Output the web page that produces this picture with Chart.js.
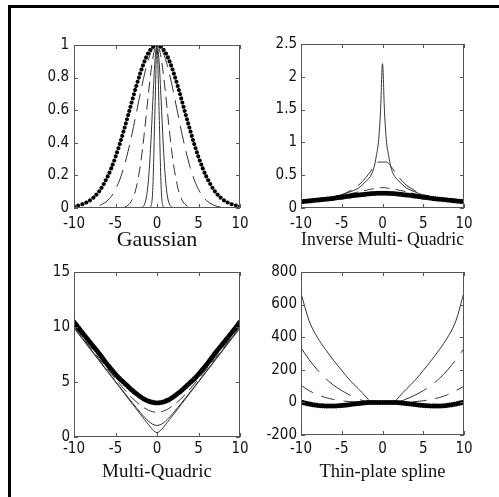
<!DOCTYPE html>
<html>
<head>
<meta charset="utf-8">
<script src="https://cdn.jsdelivr.net/npm/chart.js@4.4.0/dist/chart.umd.min.js"></script>
<style>
  html, body { margin: 0; padding: 0; background: #fff; }
  body { width: 499px; height: 497px; position: relative; overflow: hidden; }
  #frame { position: absolute; left: 8px; top: 5px; width: 520px; height: 520px;
           border-left: 3px solid #000; border-top: 3px solid #000; }
  canvas { position: absolute; }
</style>
</head>
<body>
<div id="frame"></div>
<canvas id="gauss"></canvas>
<canvas id="imq"></canvas>
<canvas id="mq"></canvas>
<canvas id="tps"></canvas>
<script>
// sample points shared by every curve
const xs = [-10,-9,-8,-7,-6,-5.5,-5,-4.5,-4,-3.5,-3,-2.5,-2,-1.75,-1.5,-1.25,-1,-0.75,-0.5,-0.25,0,
            0.25,0.5,0.75,1,1.25,1.5,1.75,2,2.5,3,3.5,4,4.5,5,5.5,6,7,8,9,10];
const xTicks = [-10, -5, 0, 5, 10];

// Gaussian
const gaussYTicks = [0, 0.2, 0.4, 0.6, 0.8, 1];
const gaussWide   = [0.01,0.023,0.05,0.1,0.187,0.245,0.313,0.39,0.475,0.566,0.658,0.748,0.83,0.867,0.901,0.93,0.955,0.974,0.988,0.997,1,
                     0.997,0.988,0.974,0.955,0.93,0.901,0.867,0.83,0.748,0.658,0.566,0.475,0.39,0.313,0.245,0.187,0.1,0.05,0.023,0.01];
const gaussLong   = [0,0.001,0.004,0.014,0.044,0.072,0.114,0.172,0.249,0.345,0.457,0.581,0.706,0.766,0.822,0.873,0.917,0.952,0.979,0.995,1,
                     0.995,0.979,0.952,0.917,0.873,0.822,0.766,0.706,0.581,0.457,0.345,0.249,0.172,0.114,0.072,0.044,0.014,0.004,0.001,0];
const gaussMid    = [0,0,0,0,0,0,0,0.001,0.005,0.017,0.05,0.125,0.264,0.36,0.472,0.594,0.717,0.829,0.92,0.979,1,
                     0.979,0.92,0.829,0.717,0.594,0.472,0.36,0.264,0.125,0.05,0.017,0.005,0.001,0,0,0,0,0,0,0];
const gaussNarrow = [0,0,0,0,0,0,0,0,0,0,0,0,0.001,0.006,0.024,0.074,0.189,0.392,0.659,0.901,1,
                     0.901,0.659,0.392,0.189,0.074,0.024,0.006,0.001,0,0,0,0,0,0,0,0,0,0,0,0];
const gaussSpike  = [0,0,0,0,0,0,0,0,0,0,0,0,0,0,0,0,0,0.009,0.125,0.594,1,
                     0.594,0.125,0.009,0,0,0,0,0,0,0,0,0,0,0,0,0,0,0,0,0];

// Inverse multi-quadric
const imqYTicks = [0, 0.5, 1, 1.5, 2, 2.5];
const imqFlat   = [0.097,0.108,0.12,0.133,0.148,0.157,0.165,0.173,0.182,0.19,0.198,0.205,0.212,0.215,0.218,0.22,0.222,0.223,0.224,0.225,0.225,
                   0.225,0.224,0.223,0.222,0.22,0.218,0.215,0.212,0.205,0.198,0.19,0.182,0.173,0.165,0.157,0.148,0.133,0.12,0.108,0.097];
const imqLow    = [0.1,0.11,0.125,0.145,0.165,0.18,0.19,0.2,0.215,0.23,0.245,0.26,0.27,0.28,0.285,0.29,0.295,0.3,0.305,0.31,0.31,
                   0.31,0.305,0.3,0.295,0.29,0.285,0.28,0.27,0.26,0.245,0.23,0.215,0.2,0.19,0.18,0.165,0.145,0.125,0.11,0.1];
const imqMid    = [0.1,0.11,0.125,0.145,0.17,0.185,0.205,0.23,0.26,0.3,0.34,0.4,0.47,0.51,0.55,0.6,0.64,0.68,0.7,0.7,0.7,
                   0.7,0.7,0.68,0.64,0.6,0.55,0.51,0.47,0.4,0.34,0.3,0.26,0.23,0.205,0.185,0.17,0.145,0.125,0.11,0.1];
const imqPeak   = [0.1,0.11,0.125,0.145,0.17,0.185,0.2,0.22,0.245,0.27,0.3,0.35,0.41,0.44,0.48,0.54,0.64,0.8,1.0,1.45,2.2,
                   1.45,1.0,0.8,0.64,0.54,0.48,0.44,0.41,0.35,0.3,0.27,0.245,0.22,0.2,0.185,0.17,0.145,0.125,0.11,0.1];

// Multi-quadric
const mqYTicks = [0, 5, 10, 15];
const mqWide   = [10.45,9.48,8.54,7.61,6.6,6.15,5.7,5.3,4.95,4.6,4.25,3.95,3.66,3.54,3.42,3.33,3.25,3.18,3.14,3.11,3.1,
                  3.11,3.14,3.18,3.25,3.33,3.42,3.54,3.66,3.95,4.25,4.6,4.95,5.3,5.7,6.15,6.6,7.61,8.54,9.48,10.45];
const mqMid    = [10.1,9.1,8.1,7.15,6.2,5.75,5.28,4.82,4.38,3.95,3.55,3.2,2.9,2.76,2.63,2.52,2.42,2.35,2.29,2.26,2.25,
                  2.26,2.29,2.35,2.42,2.52,2.63,2.76,2.9,3.2,3.55,3.95,4.38,4.82,5.28,5.75,6.2,7.15,8.1,9.1,10.1];
const mqLow    = [10.0,9.0,8.0,7.02,6.04,5.55,5.06,4.58,4.1,3.62,3.15,2.68,2.22,2.0,1.8,1.6,1.42,1.27,1.15,1.08,1.05,
                  1.08,1.15,1.27,1.42,1.6,1.8,2.0,2.22,2.68,3.15,3.62,4.1,4.58,5.06,5.55,6.04,7.02,8.0,9.0,10.0];
const mqSharp  = [9.9,8.92,7.94,6.96,5.98,5.49,5.0,4.51,4.02,3.53,3.04,2.55,2.06,1.82,1.58,1.34,1.1,0.87,0.66,0.48,0.4,
                  0.48,0.66,0.87,1.1,1.34,1.58,1.82,2.06,2.55,3.04,3.53,4.02,4.51,5.0,5.49,5.98,6.96,7.94,8.92,9.9];

// Thin-plate spline
const tpsYTicks = [-200, 0, 200, 400, 600, 800];
const tpsFlat   = [2,-10,-18,-22,-22,-21,-19,-16,-13,-10,-7,-4,-2,-1,0,0,0,0,0,0,0,
                   0,0,0,0,0,0,-1,-2,-4,-7,-10,-13,-16,-19,-21,-22,-22,-18,-10,2];
const tpsLow    = [105,72,48,30,18,14,10,7,5,3,2,1,0,0,0,0,0,0,0,0,0,
                   0,0,0,0,0,0,0,0,1,2,3,5,7,10,14,18,30,48,72,100];
const tpsMid    = [335,262,200,148,105,88,72,58,45,33,22,12,5,2,0,0,0,0,0,0,0,
                   0,0,0,0,0,0,2,5,12,22,33,45,58,72,88,105,148,200,262,330];
const tpsSteep  = [670,500,400,325,258,226,196,165,136,110,85,60,33,18,6,1,0,0,0,0,0,
                   0,0,0,0,1,6,18,33,60,85,110,136,165,196,226,258,325,400,500,675];

const tickFont = { family: "'Liberation Sans Narrow', 'DejaVu Sans Condensed', 'Liberation Sans', Arial, sans-serif", size: 15 };
const padLeft = 60, padTop = 12, padRight = 16, axisH = 56;

const dotted = { borderColor: '#000', borderWidth: 4, borderDash: [0.01, 4.3], borderCapStyle: 'round' };
const heavy  = { borderColor: '#000', borderWidth: 5, borderDash: [0.01, 2.4], borderCapStyle: 'round' };
const solid  = { borderColor: '#333', borderWidth: 1 };
const dash = (a, b) => ({ borderColor: '#333', borderWidth: 1, borderDash: [a, b] });

// axes box with inward ticks on all four sides
const boxTicks = {
  id: 'boxTicks',
  afterDatasetsDraw(chart) {
    const { ctx, chartArea: a, scales: { x, y } } = chart;
    ctx.save();
    ctx.strokeStyle = '#555';
    ctx.lineWidth = 1;
    ctx.strokeRect(a.left + 0.5, a.top + 0.5, a.right - a.left - 1, a.bottom - a.top - 1);
    ctx.beginPath();
    x.ticks.forEach(t => {
      const p = Math.round(x.getPixelForValue(t.value)) + 0.5;
      ctx.moveTo(p, a.bottom); ctx.lineTo(p, a.bottom - 4);
      ctx.moveTo(p, a.top); ctx.lineTo(p, a.top + 4);
    });
    y.ticks.forEach(t => {
      const p = Math.round(y.getPixelForValue(t.value)) + 0.5;
      ctx.moveTo(a.left, p); ctx.lineTo(a.left + 4, p);
      ctx.moveTo(a.right, p); ctx.lineTo(a.right - 4, p);
    });
    ctx.stroke();
    ctx.restore();
  }
};

function makePlot(id, box, yTicks, title, series) {
  const cv = document.getElementById(id);
  const w = box.R - box.L + padLeft + padRight;
  const h = box.B - box.T + padTop + axisH;
  cv.width = w; cv.height = h;
  cv.style.left = (box.L - padLeft) + 'px';
  cv.style.top = (box.T - padTop) + 'px';
  const lh = title.size * 1.2;
  const titlePad = box.B + axisH - lh / 2 - box.titleMid;

  new Chart(cv, {
    type: 'line',
    data: {
      datasets: series.map(s => Object.assign({
        data: xs.map((x, i) => ({ x, y: s.values[i] })),
        pointRadius: 0,
        fill: false,
        cubicInterpolationMode: 'monotone'
      }, s.style))
    },
    options: {
      responsive: false,
      animation: false,
      events: [],
      layout: { padding: { left: 0, top: padTop, right: padRight, bottom: 0 } },
      plugins: { legend: { display: false }, tooltip: { enabled: false } },
      scales: {
        x: {
          type: 'linear', min: -10, max: 10,
          afterBuildTicks: s => { s.ticks = xTicks.map(v => ({ value: v })); },
          afterFit: s => { s.height = axisH; },
          grid: { display: false, drawTicks: false },
          border: { display: false },
          ticks: { padding: box.xPad, font: tickFont, color: '#111', maxRotation: 0, autoSkip: false,
                   callback: v => String(v) },
          title: {
            display: true, text: title.text, color: '#111',
            font: { family: "'Liberation Serif', 'Times New Roman', serif", size: title.size },
            padding: { top: 0, bottom: titlePad }
          }
        },
        y: {
          type: 'linear', min: yTicks[0], max: yTicks[yTicks.length - 1],
          afterBuildTicks: s => { s.ticks = yTicks.map(v => ({ value: v })); },
          afterFit: s => { s.width = padLeft; },
          grid: { display: false, drawTicks: false },
          border: { display: false },
          ticks: { padding: box.yPad, font: tickFont, color: '#111', autoSkip: false,
                   callback: v => String(v) }
        }
      }
    },
    plugins: [boxTicks]
  });
}

makePlot('gauss', { L: 74, T: 43, R: 240, B: 208, titleMid: 240, xPad: 7, yPad: 5 }, gaussYTicks,
  { text: 'Gaussian', size: 22 }, [
    { values: gaussWide, style: dotted },
    { values: gaussLong, style: dash(18, 8) },
    { values: gaussMid, style: dash(11, 6) },
    { values: gaussNarrow, style: solid },
    { values: gaussSpike, style: solid }
  ]);

makePlot('imq', { L: 301, T: 43, R: 464, B: 208, titleMid: 240, xPad: 7, yPad: 4 }, imqYTicks,
  { text: 'Inverse Multi- Quadric', size: 19.5 }, [
    { values: imqFlat, style: heavy },
    { values: imqLow, style: dash(10, 6) },
    { values: imqMid, style: dash(22, 8) },
    { values: imqPeak, style: solid }
  ]);

makePlot('mq', { L: 74, T: 271, R: 240, B: 437, titleMid: 472, xPad: 3, yPad: 4 }, mqYTicks,
  { text: 'Multi-Quadric', size: 19 }, [
    { values: mqWide, style: heavy },
    { values: mqMid, style: dash(12, 6) },
    { values: mqLow, style: solid },
    { values: mqSharp, style: solid }
  ]);

makePlot('tps', { L: 301, T: 271, R: 464, B: 435, titleMid: 472, xPad: 5, yPad: 4 }, tpsYTicks,
  { text: 'Thin-plate spline', size: 18.5 }, [
    { values: tpsFlat, style: heavy },
    { values: tpsLow, style: dash(14, 9) },
    { values: tpsMid, style: dash(30, 10) },
    { values: tpsSteep, style: solid }
  ]);
</script>
</body>
</html>
